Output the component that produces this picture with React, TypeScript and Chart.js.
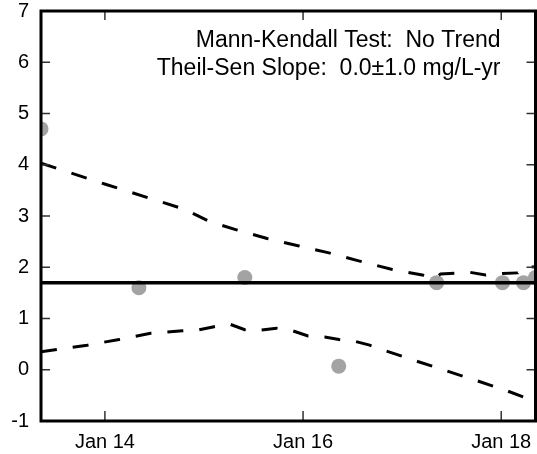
import { useEffect, useRef } from "react";
import { Chart, registerables } from "chart.js";

Chart.register(...registerables);

// ---- data (x in decimal years) ----
const X_MIN = 2013.355;
const X_MAX = 2018.346;
const Y_MIN = -1;
const Y_MAX = 7;

const sampleYears = [2013.355, 2014.343, 2015.412, 2016.36, 2017.348, 2018.013, 2018.225, 2018.346];
const sampleValues = [4.7, 1.6, 1.8, 0.07, 1.7, 1.7, 1.7, 1.8];

const trendValue = 1.7;

const upperYears = [
  2013.355, 2014.005, 2014.723, 2014.807, 2015.059, 2015.328, 2015.637, 2015.949, 2016.262,
  2016.571, 2016.891, 2017.204, 2017.338, 2017.388, 2017.688, 2017.842, 2018.01, 2018.168,
  2018.225, 2018.346,
];
const upperValues = [
  4.03, 3.62, 3.18, 3.13, 2.89, 2.73, 2.56, 2.42, 2.28,
  2.12, 1.96, 1.85, 1.79, 1.87, 1.9, 1.85, 1.88, 1.89,
  2.0, 2.01,
];

const lowerYears = [
  2013.355, 2013.822, 2014.144, 2014.461, 2014.783, 2014.951, 2015.102, 2015.26, 2015.412,
  2015.513, 2015.731, 2015.865, 2016.05, 2016.218, 2016.363, 2016.531, 2016.672, 2016.834,
  2017.143, 2017.446, 2017.748, 2018.057, 2018.346,
];
const lowerValues = [
  0.35, 0.48, 0.59, 0.71, 0.76, 0.78, 0.84, 0.89, 0.78,
  0.76, 0.81, 0.78, 0.66, 0.64, 0.59, 0.55, 0.48, 0.37,
  0.17, -0.02, -0.21, -0.41, -0.62,
];

const xTickYears = [2014, 2016, 2018];
const xTickLabels = ["Jan 14", "Jan 16", "Jan 18"];

const annotationLines = ["Mann-Kendall Test:  No Trend", "Theil-Sen Slope:  0.0\u00b11.0 mg/L-yr"];

const FONT = '"Liberation Sans", Arial, Helvetica, sans-serif';

// canvas is a little wider than the window; Chart.js keeps ~6px extra on the right,
// so the plot frame ends at the window's right edge
const CANVAS_W = 543;
const CANVAS_H = 454;

const toPoints = (xs: number[], ys: number[]) => xs.map((x, i) => ({ x, y: ys[i] }));

const zeroPad = (scale: any) => {
  scale.paddingLeft = 0;
  scale.paddingRight = 0;
  scale.paddingTop = 0;
  scale.paddingBottom = 0;
};

const framePlugin = {
  id: "frameAndNotes",
  afterDatasetsDraw(chart: any) {
    const { ctx, chartArea: a, scales } = chart;
    ctx.save();
    ctx.strokeStyle = "#333";
    ctx.lineWidth = 1.5;
    ctx.beginPath();
    for (let v = Y_MIN; v <= Y_MAX; v++) {
      const y = scales.y.getPixelForValue(v);
      ctx.moveTo(a.left, y);
      ctx.lineTo(a.left + 9, y);
      ctx.moveTo(a.right, y);
      ctx.lineTo(a.right - 9, y);
    }
    for (const t of xTickYears) {
      const x = scales.x.getPixelForValue(t);
      ctx.moveTo(x, a.bottom);
      ctx.lineTo(x, a.bottom - 10);
      ctx.moveTo(x, a.top);
      ctx.lineTo(x, a.top + 9);
    }
    ctx.stroke();
    ctx.strokeStyle = "#000";
    ctx.lineWidth = 3;
    ctx.strokeRect(a.left, a.top, a.right - a.left, a.bottom - a.top);
    ctx.fillStyle = "#000";
    ctx.font = `23px ${FONT}`;
    ctx.textAlign = "right";
    ctx.textBaseline = "alphabetic";
    ctx.fillText(annotationLines[0], a.right - 35, a.top + 36);
    ctx.fillText(annotationLines[1], a.right - 35, a.top + 64);
    ctx.restore();
  },
};

export default function App() {
  const ref = useRef<HTMLCanvasElement | null>(null);

  useEffect(() => {
    if (!ref.current) return;
    const chart = new Chart(ref.current, {
      type: "scatter",
      data: {
        datasets: [
          {
            label: "Trend",
            data: [
              { x: X_MIN, y: trendValue },
              { x: X_MAX, y: trendValue },
            ],
            showLine: true,
            borderColor: "#000",
            borderWidth: 3.5,
            pointRadius: 0,
            clip: 0,
            order: 0,
          },
          {
            label: "Upper",
            data: toPoints(upperYears, upperValues),
            showLine: true,
            borderColor: "#000",
            borderWidth: 3,
            borderDash: [16, 16],
            pointRadius: 0,
            tension: 0,
            clip: 0,
            order: 1,
          },
          {
            label: "Lower",
            data: toPoints(lowerYears, lowerValues),
            showLine: true,
            borderColor: "#000",
            borderWidth: 3,
            borderDash: [16, 16],
            pointRadius: 0,
            tension: 0,
            clip: 0,
            order: 2,
          },
          {
            label: "Samples",
            data: toPoints(sampleYears, sampleValues),
            showLine: false,
            pointRadius: 7.5,
            pointBorderWidth: 0,
            pointBackgroundColor: "#a3a3a3",
            pointBorderColor: "#a3a3a3",
            clip: 0,
            order: 3,
          },
        ],
      },
      options: {
        responsive: false,
        animation: false,
        events: [],
        layout: { padding: { left: 0, top: 11, right: 1, bottom: 0 } },
        plugins: {
          legend: { display: false },
          tooltip: { enabled: false },
        },
        scales: {
          x: {
            type: "linear",
            min: X_MIN,
            max: X_MAX,
            grid: { display: false, drawTicks: false },
            border: { display: false },
            afterBuildTicks: (scale: any) => {
              scale.ticks = xTickYears.map((v) => ({ value: v }));
            },
            afterFit: (scale: any) => {
              scale.height = 33;
              zeroPad(scale);
            },
            ticks: {
              autoSkip: false,
              maxRotation: 0,
              padding: 9,
              color: "#000",
              font: { family: FONT, size: 20 },
              callback: (v: any) => {
                const i = xTickYears.indexOf(Number(v));
                return i >= 0 ? xTickLabels[i] : "";
              },
            },
          },
          y: {
            type: "linear",
            min: Y_MIN,
            max: Y_MAX,
            grid: { display: false, drawTicks: false },
            border: { display: false },
            afterFit: (scale: any) => {
              scale.width = 41;
              zeroPad(scale);
            },
            ticks: {
              stepSize: 1,
              padding: 12,
              color: "#000",
              font: { family: FONT, size: 20 },
            },
          },
        },
      },
      plugins: [framePlugin],
    });
    return () => chart.destroy();
  }, []);

  return (
    <div style={{ position: "fixed", left: 0, top: 0, width: 537, height: 454, overflow: "hidden", background: "#fff" }}>
      <canvas
        ref={ref}
        width={CANVAS_W}
        height={CANVAS_H}
        style={{ position: "absolute", left: 0, top: 0, width: CANVAS_W, height: CANVAS_H }}
      />
    </div>
  );
}
